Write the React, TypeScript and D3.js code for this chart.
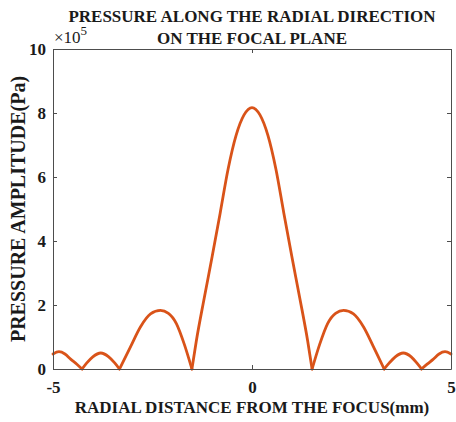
import { useRef, useEffect, RefObject } from 'react';
import * as d3 from 'd3';

// radial distance from the focus (mm)
const radialDistance: number[] = [
  -5.0, -4.85, -4.7, -4.55, -4.4, -4.27,
  -4.15, -4.0, -3.8, -3.6, -3.45, -3.33,
  -3.05, -2.8, -2.55, -2.3, -2.1, -1.9, -1.7, -1.51,
  -1.4, -1.2, -1.0, -0.8, -0.6, -0.4, -0.2, 0,
  0.2, 0.4, 0.6, 0.8, 1.0, 1.2, 1.4, 1.51,
  1.7, 1.9, 2.1, 2.3, 2.55, 2.8, 3.05, 3.32,
  3.45, 3.6, 3.8, 4.0, 4.14, 4.26,
  4.4, 4.55, 4.7, 4.85, 5.0,
];

// pressure amplitude (x 10^5 Pa)
const pressureAmplitude: number[] = [
  0.47, 0.54, 0.47, 0.3, 0.15, 0,
  0.19, 0.38, 0.5, 0.38, 0.19, 0,
  0.7, 1.32, 1.72, 1.83, 1.74, 1.42, 0.77, 0,
  0.87, 2.22, 3.52, 4.87, 6.25, 7.3, 7.94, 8.17,
  7.94, 7.3, 6.25, 4.87, 3.52, 2.22, 0.87, 0,
  0.77, 1.42, 1.74, 1.83, 1.72, 1.32, 0.7, 0,
  0.19, 0.38, 0.5, 0.38, 0.19, 0,
  0.15, 0.3, 0.47, 0.54, 0.47,
];

const xTicks: number[] = [-5, 0, 5];
const yTicks: number[] = [0, 2, 4, 6, 8, 10];

const titleLines: string[] = ['PRESSURE ALONG THE RADIAL DIRECTION', 'ON THE FOCAL PLANE'];
const xLabel = 'RADIAL DISTANCE FROM THE FOCUS(mm)';
const yLabel = 'PRESSURE AMPLITUDE(Pa)';

const FONT = "'Liberation Serif', 'Times New Roman', serif";

const App = () => {
  const svgRef: RefObject<SVGSVGElement> = useRef(null);

  useEffect(() => {
    const width = 456;
    const height = 422;
    const margin = { top: 49, right: 5, bottom: 53, left: 53 };
    const axisColor = '#4d4d4d';
    const textColor = '#1a1a1a';

    const svg = d3.select(svgRef.current);
    svg.selectAll('*').remove();
    svg.attr('width', width).attr('height', height).attr('font-family', FONT);

    const x = d3.scaleLinear().domain([-5, 5]).range([margin.left, width - margin.right]);
    const y = d3.scaleLinear().domain([0, 10]).range([height - margin.bottom, margin.top]);

    // split the curve into lobes at its zeros so the cusps stay sharp
    const points = radialDistance.map((d, i) => [d, pressureAmplitude[i]] as [number, number]);
    const lobes: [number, number][][] = [];
    let current: [number, number][] = [];
    points.forEach((p) => {
      current.push(p);
      if (p[1] === 0 && current.length > 1) {
        lobes.push(current);
        current = [p];
      }
    });
    if (current.length > 1) lobes.push(current);

    const line = d3
      .line<[number, number]>()
      .x((d) => x(d[0]))
      .y((d) => y(d[1]))
      .curve(d3.curveMonotoneX);

    svg
      .append('g')
      .attr('fill', 'none')
      .attr('stroke', '#D95319')
      .attr('stroke-width', 2.8)
      .attr('stroke-linecap', 'round')
      .attr('stroke-linejoin', 'round')
      .selectAll('path')
      .data(lobes)
      .join('path')
      .attr('d', (d) => line(d));

    const styleAxis = (g: d3.Selection<SVGGElement, unknown, null, undefined>) => {
      g.attr('font-family', FONT).attr('font-size', 17).attr('font-weight', 'bold');
      g.select('.domain').attr('stroke', axisColor);
      g.selectAll('.tick line').attr('stroke', axisColor);
      g.selectAll('.tick text')
        .attr('fill', textColor)
        .style('font-family', FONT)
        .style('font-weight', 'bold')
        .style('font-size', '17px');
    };

    svg
      .append('g')
      .attr('transform', `translate(0,${height - margin.bottom})`)
      .call(
        d3.axisBottom(x).tickValues(xTicks).tickSizeInner(-4).tickSizeOuter(0).tickPadding(12)
          .tickFormat((d) => `${d}`)
      )
      .call(styleAxis);

    svg
      .append('g')
      .attr('transform', `translate(0,${margin.top})`)
      .call(d3.axisTop(x).tickValues(xTicks).tickSizeInner(-4).tickSizeOuter(0).tickFormat(() => ''))
      .call(styleAxis);

    svg
      .append('g')
      .attr('transform', `translate(${margin.left},0)`)
      .call(d3.axisLeft(y).tickValues(yTicks).tickSizeInner(-4).tickSizeOuter(0).tickPadding(7))
      .call(styleAxis);

    svg
      .append('g')
      .attr('transform', `translate(${width - margin.right},0)`)
      .call(d3.axisRight(y).tickValues(yTicks).tickSizeInner(-4).tickSizeOuter(0).tickFormat(() => ''))
      .call(styleAxis);

    // exponent label
    const expo = svg
      .append('text')
      .attr('x', margin.left + 1)
      .attr('y', 43)
      .style('font-family', FONT)
      .style('font-size', '17px')
      .attr('fill', textColor);
    expo.append('tspan').text('×10');
    expo.append('tspan').style('font-size', '13px').attr('dy', -8).text('5');

    // title
    svg
      .append('g')
      .selectAll('text')
      .data(titleLines)
      .join('text')
      .attr('x', x(0))
      .attr('y', (d, i) => 22 + i * 22)
      .attr('text-anchor', 'middle')
      .style('font-family', FONT)
      .style('font-weight', 'bold')
      .style('font-size', '17px')
      .attr('fill', textColor)
      .text((d) => d);

    svg
      .append('text')
      .attr('x', x(0))
      .attr('y', 413)
      .attr('text-anchor', 'middle')
      .style('font-family', FONT)
      .style('font-weight', 'bold')
      .style('font-size', '17px')
      .attr('fill', textColor)
      .text(xLabel);

    svg
      .append('text')
      .attr('transform', `translate(25,${y(5)}) rotate(-90)`)
      .attr('text-anchor', 'middle')
      .style('font-family', FONT)
      .style('font-weight', 'bold')
      .style('font-size', '20px')
      .attr('fill', textColor)
      .text(yLabel);
  }, []);

  return (
    <svg ref={svgRef} style={{ position: 'absolute', left: 0, top: 0, background: '#fff' }}></svg>
  );
};

export default App;
